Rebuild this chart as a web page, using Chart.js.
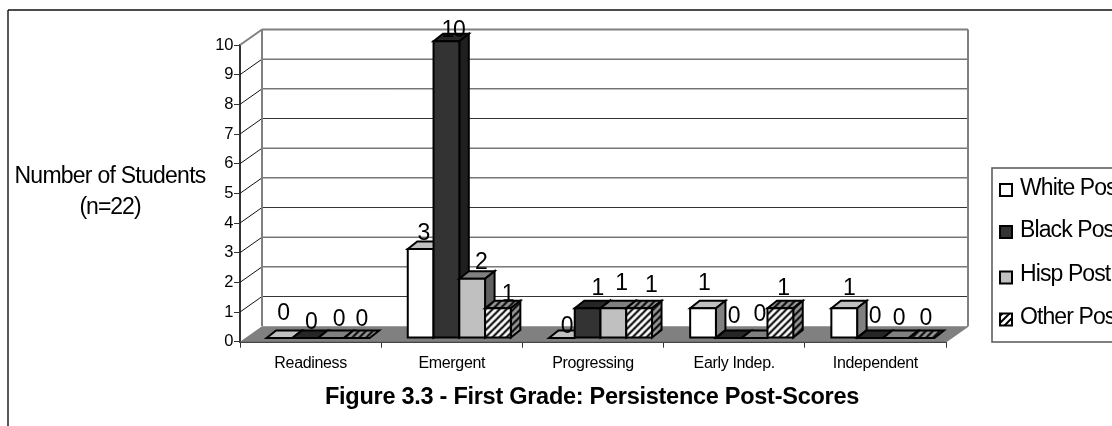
<!DOCTYPE html>
<html>
<head>
<meta charset="utf-8">
<title>Figure 3.3</title>
<style>
  html, body { margin: 0; padding: 0; background: #fff; overflow: hidden; }
  canvas { display: block; }
</style>
<script src="https://cdn.jsdelivr.net/npm/chart.js@4.4.0/dist/chart.umd.min.js"></script>
</head>
<body>
<canvas id="chart" width="1112" height="426"></canvas>
<script>
// Values
const categories = ['Readiness', 'Emergent', 'Progressing', 'Early Indep.', 'Independent'];
const seriesNames = ['White Post', 'Black Post', 'Hisp Post', 'Other Post'];
const whitePost = [0, 3, 0, 1, 1];
const blackPost = [0, 10, 1, 0, 0];
const hispPost = [0, 2, 1, 0, 0];
const otherPost = [0, 1, 1, 1, 0];
const seriesValues = [whitePost, blackPost, hispPost, otherPost];

// Excel's auto placed data labels are uneven, so each one gets a nudge (series -> category)
const labelNudges = [
    [[-1, -9], [-2, 0], [0, 4], [-4, -9], [0, -4]],
    [[1, 0], [2, 5], [5, -4], [0, -6], [0, -6]],
    [[3, -3], [4, 0], [3, -9], [0, -8], [-2, -4]],
    [[0, -3], [5, 2], [7, -7], [-2, -4], [-1, -4]]
];

// 3D look
const wallDepth = { x: 22, y: -15.5 };
const barShift = { x: 7.5, y: -3.7 };
const barDepth = { x: 9.5, y: -7.5 };

function hatch(back, stripe) {
    const c = document.createElement('canvas');
    c.width = c.height = 7;
    const g = c.getContext('2d');
    g.fillStyle = back;
    g.fillRect(0, 0, 7, 7);
    g.strokeStyle = stripe;
    g.lineWidth = 2;
    g.beginPath();
    g.moveTo(-2, 9); g.lineTo(9, -2);
    g.moveTo(-2, 2); g.lineTo(2, -2);
    g.moveTo(5, 9); g.lineTo(9, 5);
    g.stroke();
    return c.getContext('2d').createPattern(c, 'repeat');
}

const frontColors = ['#ffffff', '#333333', '#c0c0c0', hatch('#ffffff', '#000000')];
const topColors = ['#c0c0c0', '#262626', '#808080', hatch('#999999', '#000000')];
const sideColors = ['#808080', '#1f1f1f', '#606060', hatch('#999999', '#000000')];

function face(ctx, pts, fill) {
    ctx.beginPath();
    pts.forEach((p, i) => i ? ctx.lineTo(p[0], p[1]) : ctx.moveTo(p[0], p[1]));
    ctx.closePath();
    ctx.fillStyle = fill;
    ctx.fill();
    ctx.strokeStyle = '#000';
    ctx.lineWidth = 2;
    ctx.stroke();
}

function line(ctx, x1, y1, x2, y2, color, width) {
    ctx.beginPath();
    ctx.moveTo(x1, y1);
    ctx.lineTo(x2, y2);
    ctx.strokeStyle = color;
    ctx.lineWidth = width;
    ctx.stroke();
}

function text(ctx, str, x, y, font, spacing, align) {
    ctx.font = font;
    ctx.letterSpacing = spacing;
    ctx.textAlign = align || 'center';
    ctx.textBaseline = 'middle';
    ctx.fillStyle = '#000';
    ctx.fillText(str, x, y);
}

const excel3d = {
    id: 'excel3d',
    beforeDraw(chart) {
        const ctx = chart.ctx;
        ctx.letterSpacing = '-0.35px';
        // outer chart frame, cut off by the screenshot on the right and at the bottom
        ctx.save();
        line(ctx, 8, 10, 8, 426, '#222', 1.5);
        line(ctx, 8, 10, 1112, 10, '#111', 1.5);
        ctx.restore();
    },
    beforeDatasetsDraw(chart) {
        const ctx = chart.ctx;
        const { left, right, top, bottom } = chart.chartArea;
        const yScale = chart.scales.y;
        const dx = wallDepth.x, dy = wallDepth.y;
        ctx.save();

        // floor
        ctx.beginPath();
        ctx.moveTo(left, bottom);
        ctx.lineTo(right, bottom);
        ctx.lineTo(right + dx, bottom + dy);
        ctx.lineTo(left + dx, bottom + dy);
        ctx.closePath();
        ctx.fillStyle = '#808080';
        ctx.fill();

        // gridlines run along the side wall and across the back wall
        yScale.ticks.forEach(t => {
            if (t.value === 0) return;
            const y = yScale.getPixelForValue(t.value);
            const isTop = t.value === yScale.max;
            line(ctx, left, y, left + dx, y + dy, isTop ? '#808080' : '#111', isTop ? 2 : 1);
            line(ctx, left + dx, y + dy, right + dx, y + dy, isTop ? '#808080' : '#333', isTop ? 2 : 1);
        });
        line(ctx, left + dx, top + dy, left + dx, bottom + dy, '#808080', 2);
        line(ctx, right + dx, top + dy, right + dx, bottom + dy, '#808080', 2);
        line(ctx, right, bottom, right + dx, bottom + dy, '#808080', 1.5);

        // bars, left to right so each front face covers its neighbour's side
        ctx.translate(barShift.x, barShift.y);
        categories.forEach((_, c) => {
            seriesValues.forEach((_, s) => {
                const bar = chart.getDatasetMeta(s).data[c];
                const half = bar.width / 2;
                const x0 = bar.x - half, x1 = bar.x + half;
                const ox = barDepth.x, oy = barDepth.y;
                face(ctx, [[x0, bar.y], [x0 + ox, bar.y + oy], [x1 + ox, bar.y + oy], [x1, bar.y]], topColors[s]);
                if (bar.base - bar.y > 0.5) {
                    face(ctx, [[x1, bar.y], [x1 + ox, bar.y + oy], [x1 + ox, bar.base + oy], [x1, bar.base]], sideColors[s]);
                    face(ctx, [[x0, bar.y], [x1, bar.y], [x1, bar.base], [x0, bar.base]], frontColors[s]);
                }
            });
        });
        ctx.restore();

        // data labels
        ctx.save();
        seriesValues.forEach((values, s) => {
            values.forEach((v, c) => {
                const bar = chart.getDatasetMeta(s).data[c];
                const n = labelNudges[s][c];
                text(ctx, String(v), bar.x + 12 + n[0], bar.y - 19.5 + n[1], '23px "Liberation Sans"', '-1.5px');
            });
        });
        ctx.restore();
        return false;
    },
    afterDraw(chart) {
        const ctx = chart.ctx;
        ctx.save();
        text(ctx, 'Number of Students', 110, 177, '23px "Liberation Sans"', '-0.75px');
        text(ctx, '(n=22)', 110, 208, '23px "Liberation Sans"', '-1px');
        text(ctx, 'Figure 3.3 - First Grade: Persistence Post-Scores', 592, 398, 'bold 23.5px "Liberation Sans"', '-0.27px');

        // legend box runs off the right edge of the picture
        ctx.strokeStyle = '#555';
        ctx.lineWidth = 1.5;
        ctx.strokeRect(992, 168, 140, 174);
        const swatchRows = [190, 232, 277.5, 319.5];
        const textRows = [189, 231, 275, 318];
        seriesNames.forEach((name, s) => {
            const y = swatchRows[s];
            ctx.fillStyle = frontColors[s];
            ctx.fillRect(1000, y - 6, 12, 12);
            ctx.strokeStyle = '#000';
            ctx.lineWidth = 2;
            ctx.strokeRect(1000, y - 6, 12, 12);
            text(ctx, name, 1020, textRows[s], '23px "Liberation Sans"', '-0.9px', 'left');
        });
        ctx.restore();
    }
};

new Chart(document.getElementById('chart'), {
    type: 'bar',
    data: {
        labels: categories,
        datasets: seriesNames.map((name, s) => ({
            label: name,
            data: seriesValues[s],
            backgroundColor: frontColors[s],
            borderColor: '#000',
            borderWidth: 2,
            categoryPercentage: 0.73,
            barPercentage: 1
        }))
    },
    plugins: [excel3d],
    options: {
        responsive: false,
        animation: false,
        layout: { padding: { top: 45, right: 166, left: 0, bottom: 0 } },
        plugins: {
            legend: { display: false },
            tooltip: { enabled: false }
        },
        scales: {
            x: {
                afterFit: s => { s.height = 84.3; },
                grid: { drawOnChartArea: false, tickLength: 6, color: '#333' },
                border: { color: '#444', width: 2 },
                ticks: { color: '#000', font: { family: 'Liberation Sans', size: 16 }, padding: 6, maxRotation: 0 }
            },
            y: {
                min: 0,
                max: 10,
                afterFit: s => { s.width = 240; },
                grid: { drawOnChartArea: false, tickLength: 6, color: '#333' },
                border: { color: '#333', width: 2 },
                ticks: { stepSize: 1, color: '#000', font: { family: 'Liberation Sans', size: 16.5 }, padding: 1 }
            }
        }
    }
});
</script>
</body>
</html>
